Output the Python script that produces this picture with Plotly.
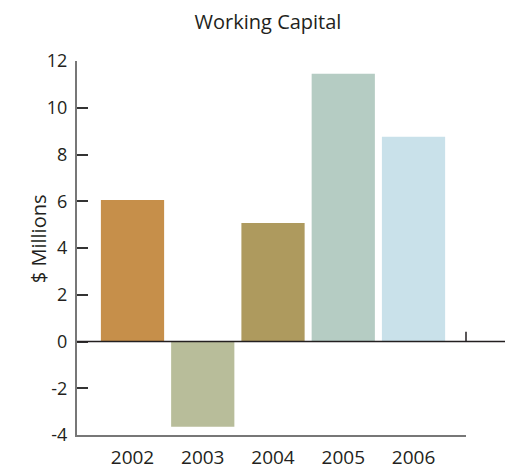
import plotly.graph_objects as go

years = ["2002", "2003", "2004", "2005", "2006"]
values = [6.05, -3.65, 5.07, 11.45, 8.76]
colors = ["#C68F4A", "#B8BD9A", "#AE9A5E", "#B5CCC3", "#C9E1EA"]
y_ticks = [-4, -2, 0, 2, 4, 6, 8, 10, 12]
y_tick_text = ["-4", "-2", "0", "2", "4", "6", "8", "10", "12"]

FONT = "Open Sans, Lato, sans-serif"

fig = go.Figure(
    go.Bar(x=years, y=values, marker=dict(color=colors, line=dict(width=0)), width=0.9)
)

fig.update_layout(
    width=505, height=470,
    margin=dict(l=77, r=39, t=61, b=35),
    plot_bgcolor="white", paper_bgcolor="white",
    showlegend=False,
    font=dict(family=FONT, color="#231F20"),
    title=dict(text="Working Capital", x=268 / 505, xanchor="center",
               y=1 - 22 / 470, yanchor="middle", yref="container",
               font=dict(size=20, family=FONT, color="#231F20")),
    bargap=0.1,
)

fig.update_xaxes(
    type="category", range=[-0.79, 4.747], automargin=False,
    showline=True, linecolor="#777777", linewidth=2,
    ticks="", showgrid=False, zeroline=False,
    tickfont=dict(size=19, family=FONT, color="#231F20"),
    ticklabelstandoff=4,
)

fig.update_yaxes(
    range=[-4, 12], tickvals=y_ticks, ticktext=y_tick_text, automargin=False,
    showline=True, linecolor="#777777", linewidth=2,
    ticks="inside", ticklen=11, tickwidth=2, tickcolor="#333333",
    showgrid=False, zeroline=False,
    tickfont=dict(size=18, family=FONT, color="#231F20"),
    ticklabelstandoff=4,
)

# zero line extending to the right edge and a small tick at plot end
fig.add_shape(type="line", xref="paper", yref="y", x0=0, x1=428 / 389, y0=0, y1=0,
              line=dict(color="#231F20", width=1.5))
fig.add_shape(type="line", xref="paper", yref="y", x0=1, x1=1, y0=0, y1=0.42,
              line=dict(color="#231F20", width=1.5))

fig.add_annotation(text="$ Millions", xref="paper", yref="paper", x=0, y=0.525,
                   xshift=-54, textangle=-90, showarrow=False,
                   font=dict(size=20, family=FONT, color="#231F20"))

fig.write_html("out.html")
